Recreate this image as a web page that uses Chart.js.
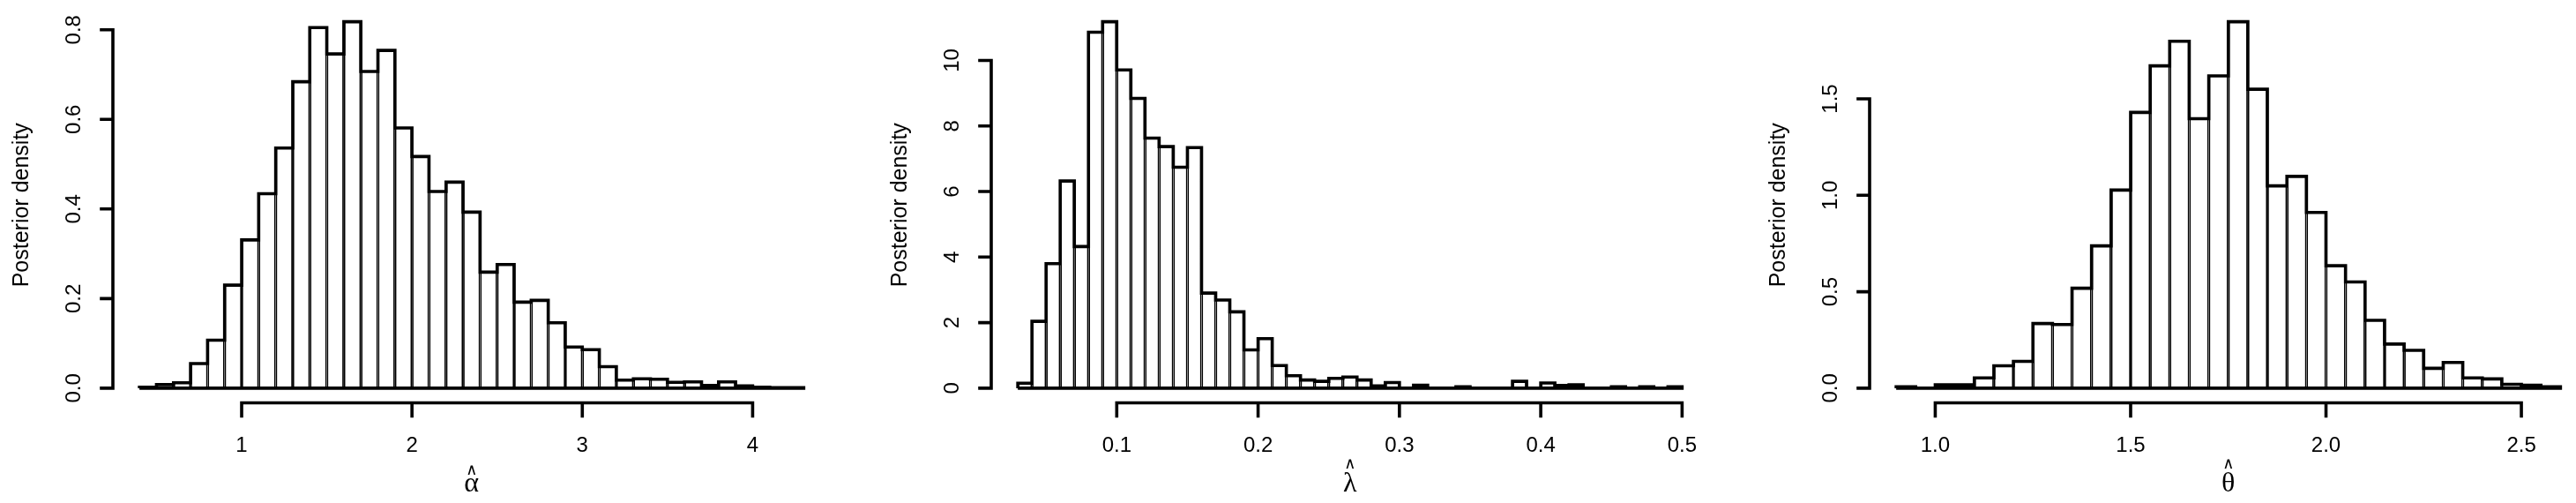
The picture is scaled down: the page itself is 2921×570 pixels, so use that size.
<!DOCTYPE html>
<html>
<head>
<meta charset="utf-8">
<script src="https://cdn.jsdelivr.net/npm/chart.js@4.4.1/dist/chart.umd.min.js"></script>
<style>
  html, body { margin: 0; padding: 0; background: #fff; overflow: hidden; }
  #wrap { position: relative; width: 2921px; height: 570px; overflow: hidden; background: #fff; }
  canvas { position: absolute; top: 0; }
</style>
</head>
<body>
<div id="wrap">
  <canvas id="alphaChart" width="996" height="570" style="left:0px"></canvas>
  <canvas id="lambdaChart" width="996" height="570" style="left:996px"></canvas>
  <canvas id="thetaChart" width="996" height="570" style="left:1992px"></canvas>
</div>
<script>
// --- alpha-hat posterior ---
const alphaBreaks = [0.4, 0.5, 0.6, 0.7, 0.8, 0.9, 1.0, 1.1, 1.2, 1.3, 1.4, 1.5, 1.6, 1.7, 1.8, 1.9, 2.0,
  2.1, 2.2, 2.3, 2.4, 2.5, 2.6, 2.7, 2.8, 2.9, 3.0, 3.1, 3.2, 3.3, 3.4, 3.5, 3.6, 3.7, 3.8, 3.9, 4.0, 4.1, 4.2, 4.3];
const alphaDensity = [0.002, 0.008, 0.012, 0.055, 0.107, 0.230, 0.331, 0.434, 0.536, 0.684,
  0.805, 0.746, 0.818, 0.707, 0.754, 0.581, 0.517, 0.439, 0.460, 0.393,
  0.259, 0.276, 0.192, 0.196, 0.146, 0.092, 0.086, 0.048, 0.018, 0.021,
  0.020, 0.013, 0.014, 0.006, 0.014, 0.005, 0.002, 0.001, 0.001];
const alphaXTicks = [1, 2, 3, 4];
const alphaXLabels = ['1', '2', '3', '4'];
const alphaYTicks = [0, 0.2, 0.4, 0.6, 0.8];
const alphaYLabels = ['0.0', '0.2', '0.4', '0.6', '0.8'];

// --- lambda-hat posterior ---
const lambdaBreaks = [0.03, 0.04, 0.05, 0.06, 0.07, 0.08, 0.09, 0.10, 0.11, 0.12, 0.13, 0.14, 0.15, 0.16,
  0.17, 0.18, 0.19, 0.20, 0.21, 0.22, 0.23, 0.24, 0.25, 0.26, 0.27, 0.28, 0.29, 0.30, 0.31, 0.32, 0.33,
  0.34, 0.35, 0.36, 0.37, 0.38, 0.39, 0.40, 0.41, 0.42, 0.43, 0.44, 0.45, 0.46, 0.47, 0.48, 0.49, 0.50];
const lambdaDensity = [0.15, 2.04, 3.80, 6.32, 4.32, 10.86, 11.18, 9.71, 8.84, 7.63,
  7.37, 6.74, 7.34, 2.90, 2.69, 2.33, 1.17, 1.51, 0.69, 0.38,
  0.25, 0.21, 0.30, 0.34, 0.25, 0.07, 0.17, 0, 0.09, 0,
  0, 0.04, 0, 0, 0, 0.21, 0, 0.16, 0.08, 0.10,
  0, 0, 0.04, 0, 0.04, 0, 0.04];
const lambdaXTicks = [0.1, 0.2, 0.3, 0.4, 0.5];
const lambdaXLabels = ['0.1', '0.2', '0.3', '0.4', '0.5'];
const lambdaYTicks = [0, 2, 4, 6, 8, 10];
const lambdaYLabels = ['0', '2', '4', '6', '8', '10'];

// --- theta-hat posterior ---
const thetaBreaks = [0.90, 0.95, 1.00, 1.05, 1.10, 1.15, 1.20, 1.25, 1.30, 1.35, 1.40, 1.45, 1.50, 1.55,
  1.60, 1.65, 1.70, 1.75, 1.80, 1.85, 1.90, 1.95, 2.00, 2.05, 2.10, 2.15, 2.20, 2.25, 2.30, 2.35, 2.40,
  2.45, 2.50, 2.55, 2.60];
const thetaDensity = [0.007, 0, 0.017, 0.017, 0.053, 0.116, 0.139, 0.335, 0.330, 0.518,
  0.738, 1.027, 1.430, 1.671, 1.799, 1.397, 1.619, 1.900, 1.550, 1.049,
  1.098, 0.911, 0.635, 0.551, 0.352, 0.229, 0.196, 0.103, 0.133, 0.053,
  0.048, 0.020, 0.015, 0.007];
const thetaXTicks = [1.0, 1.5, 2.0, 2.5];
const thetaXLabels = ['1.0', '1.5', '2.0', '2.5'];
const thetaYTicks = [0, 0.5, 1.0, 1.5];
const thetaYLabels = ['0.0', '0.5', '1.0', '1.5'];

const Y_TITLE = 'Posterior density';

// look of the R base graphics panels
const PAD = { left: 128, right: 54.5, top: 8, bottom: 113.5 };
const LW = 3.6;
const TICK_FONT = '24px "Liberation Sans", Arial, sans-serif';
const TITLE_FONT = '25px "Liberation Sans", Arial, sans-serif';
const SYM_FONT = '32px "Liberation Serif", "DejaVu Serif", serif';
const HAT_FONT = '18px "DejaVu Sans", sans-serif';

/**
 * R style axes: lines only span first..last tick, y labels read upward
 */
function rAxes(xTicks, xLabels, yTicks, yLabels, symbol) {
  return {
    id: 'rAxes',
    afterDraw(chart) {
      const { ctx, chartArea: area, scales: { x, y } } = chart;
      ctx.save();
      ctx.strokeStyle = '#000';
      ctx.fillStyle = '#000';
      ctx.lineWidth = LW;
      ctx.lineCap = 'square';

      // y axis
      const yPix = yTicks.map(v => y.getPixelForValue(v));
      ctx.beginPath();
      ctx.moveTo(area.left, yPix[0]);
      ctx.lineTo(area.left, yPix[yPix.length - 1]);
      yPix.forEach(p => { ctx.moveTo(area.left, p); ctx.lineTo(area.left - 13, p); });
      ctx.stroke();

      ctx.font = TICK_FONT;
      ctx.textAlign = 'center';
      ctx.textBaseline = 'alphabetic';
      yPix.forEach((p, i) => {
        ctx.save();
        ctx.translate(area.left - 37, p);
        ctx.rotate(-Math.PI / 2);
        ctx.fillText(yLabels[i], 0, 0);
        ctx.restore();
      });

      ctx.font = TITLE_FONT;
      ctx.save();
      ctx.translate(area.left - 96.5, (area.top + area.bottom) / 2);
      ctx.rotate(-Math.PI / 2);
      ctx.fillText(Y_TITLE, 0, 0);
      ctx.restore();

      // x axis
      const xPix = xTicks.map(v => x.getPixelForValue(v));
      ctx.beginPath();
      ctx.moveTo(xPix[0], area.bottom);
      ctx.lineTo(xPix[xPix.length - 1], area.bottom);
      xPix.forEach(p => { ctx.moveTo(p, area.bottom); ctx.lineTo(p, area.bottom + 15); });
      ctx.stroke();

      ctx.font = TICK_FONT;
      xPix.forEach((p, i) => ctx.fillText(xLabels[i], p, area.bottom + 55));

      // hatted greek symbol
      const cx = (area.left + area.right) / 2;
      const base = area.bottom + 100;
      ctx.font = SYM_FONT;
      ctx.fillText(symbol, cx, base);
      const asc = ctx.measureText(symbol).actualBoundingBoxAscent;
      ctx.font = HAT_FONT;
      ctx.fillText('\u2227', cx, base - asc - 4);
      ctx.restore();
    }
  };
}

function renderHistogram(canvasId, breaks, density, xTicks, xLabels, yTicks, yLabels, symbol) {
  const last = breaks.length - 1;
  const bins = density.map((d, i) => ({ x: (breaks[i] + breaks[i + 1]) / 2, y: d }));

  // outer step outline of the histogram (tops, steps and the base)
  const outline = [{ x: breaks[0], y: 0 }];
  density.forEach((d, i) => outline.push({ x: breaks[i], y: d }));
  outline.push({ x: breaks[last], y: 0 });
  outline.push({ x: breaks[0], y: 0 });

  const span = breaks[last] - breaks[0];
  const top = Math.max(...density);

  new Chart(document.getElementById(canvasId), {
    type: 'bar',
    data: {
      datasets: [
        {
          type: 'line',
          data: outline,
          stepped: 'before',
          borderColor: '#000',
          borderWidth: LW,
          borderJoinStyle: 'miter',
          pointRadius: 0,
          fill: false,
          order: 0
        },
        {
          type: 'bar',
          data: bins,
          backgroundColor: '#fff',
          borderColor: '#000',
          borderWidth: { left: LW / 2, right: LW / 2, top: 0, bottom: 0 },
          borderSkipped: false,
          inflateAmount: 0,
          barPercentage: 1,
          categoryPercentage: 1,
          order: 1
        }
      ]
    },
    options: {
      responsive: false,
      animation: false,
      devicePixelRatio: 1,
      layout: { padding: PAD },
      plugins: { legend: { display: false }, tooltip: { enabled: false } },
      scales: {
        x: {
          type: 'linear',
          display: false,
          offset: false,
          grid: { offset: false },
          min: breaks[0] - 0.04 * span,
          max: breaks[last] + 0.04 * span,
          afterBuildTicks: s => { s.ticks = xTicks.map(v => ({ value: v })); }
        },
        y: {
          type: 'linear',
          display: false,
          min: -0.04 * top,
          max: 1.04 * top
        }
      }
    },
    plugins: [rAxes(xTicks, xLabels, yTicks, yLabels, symbol)]
  });
}

renderHistogram('alphaChart', alphaBreaks, alphaDensity, alphaXTicks, alphaXLabels, alphaYTicks, alphaYLabels, '\u03B1');
renderHistogram('lambdaChart', lambdaBreaks, lambdaDensity, lambdaXTicks, lambdaXLabels, lambdaYTicks, lambdaYLabels, '\u03BB');
renderHistogram('thetaChart', thetaBreaks, thetaDensity, thetaXTicks, thetaXLabels, thetaYTicks, thetaYLabels, '\u03B8');
</script>
</body>
</html>
